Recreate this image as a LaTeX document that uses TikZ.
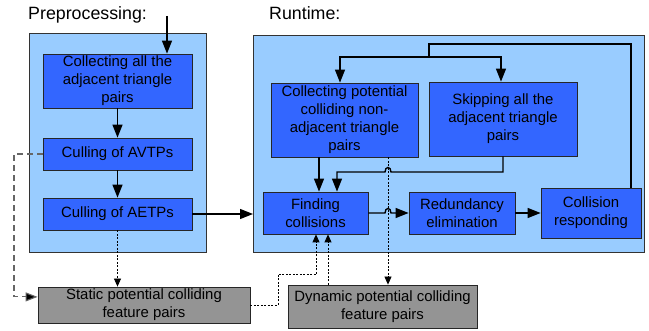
\documentclass[tikz,border=0pt]{standalone}
\usepackage{fontspec}
\setmainfont{Liberation Sans}
\usetikzlibrary{arrows.meta,calc}
\definecolor{frameblue}{HTML}{99CCFF}
\definecolor{boxblue}{HTML}{3366FF}
\definecolor{boxgray}{HTML}{949494}
\tikzset{
  frame/.style={draw=black!80,fill=frameblue,line width=0.8pt},
  procbox/.style={draw=black!85,fill=boxblue,line width=0.8pt,inner sep=0pt,align=center,
    font=\fontsize{14.9}{18}\selectfont},
  databox/.style={draw=black!85,fill=boxgray,line width=0.8pt,inner sep=0pt,align=center,
    font=\fontsize{14.9}{18}\selectfont},
  flow/.style={line width=1.4pt,-{Triangle[length=13pt,width=10pt]}},
  plainflow/.style={line width=1.4pt},
  dotflow/.style={line width=0.8pt,dash pattern=on 2pt off 1.5pt,-{Triangle[length=8pt,width=7pt]}},
  dotline/.style={line width=0.8pt,dash pattern=on 2pt off 1.5pt},
  longdash/.style={line width=1.1pt,draw=black!60,dash pattern=on 6pt off 4pt,
    -{Triangle[length=12pt,width=9pt,fill=black]}},
  title/.style={font=\fontsize{17.8}{20}\selectfont,anchor=base west,inner sep=0pt},
}
\begin{document}
\begin{tikzpicture}[x=1pt,y=-1pt]
\useasboundingbox (0,0) rectangle (649,331);
% frames
\draw[frame] (29,33) rectangle (206,252);
\path (253,35) coordinate (rtnw) (644,252) coordinate (rtse);
\draw[frame] (rtnw) rectangle (rtse);
\node[title] (pre) at (28,20) {Preprocessing:};
\node[title] (rt) at (269,20) {Runtime:};
% preprocessing boxes
\node[procbox,minimum width=149pt,minimum height=54pt] (b1) at (117.5,81)
  {Collecting all the\\adjacent triangle\\pairs};
\node[procbox,minimum width=149pt,minimum height=32pt] (b2) at (117.5,154) {Culling of AVTPs};
\node[procbox,minimum width=149pt,minimum height=32pt] (b3) at (117.5,214) {Culling of AETPs};
% runtime boxes
\node[procbox,minimum width=147pt,minimum height=74pt] (cp) at (344.5,120)
  {Collecting potential\\colliding non-\\adjacent triangle\\pairs};
\node[procbox,minimum width=148pt,minimum height=74pt] (sk) at (503,119)
  {Skipping all the\\adjacent triangle\\pairs};
\node[procbox,minimum width=105pt,minimum height=42pt] (fc) at (315.5,213) {Finding\\collisions};
\node[procbox,minimum width=106pt,minimum height=42pt] (re) at (462,213) {Redundancy\\elimination};
\node[procbox,minimum width=100pt,minimum height=50pt] (cr) at (591,213) {Collision\\responding};
% data boxes
\node[databox,minimum width=212pt,minimum height=36pt] (st) at (144,305)
  {Static potential colliding\\feature pairs};
\node[databox,minimum width=189pt,minimum height=43pt] (dy) at (382.5,306.5)
  {Dynamic potential colliding\\feature pairs};
% helper coordinates
\coordinate (in) at (167,16);
\coordinate (dl) at (14,154);
\coordinate (fb1) at (631,44);
\coordinate (fb2) at (429,44);
\coordinate (fb3) at (429,57);
\coordinate (fbl) at (340,57);
\coordinate (fbr) at (501,57);
\coordinate (sk1) at (503,172);
\coordinate (sk2) at (337,172);
\coordinate (cx) at (319,0);
\coordinate (jx) at (388,0);
\coordinate (s1) at (278,305);
\coordinate (s2) at (278,274);
\coordinate (s3) at (316,274);
\coordinate (dx) at (328,0);
% preprocessing connectors
\draw[flow] (in) -- (in |- b1.north);
\draw[flow] (b1.south) -- (b2.north);
\draw[flow] (b2.south) -- (b3.north);
\draw[flow] (b3.east) -- (b3.east -| rtnw);
\draw[longdash] (b2.west) -- (b2.west -| dl) |- ($(st.north west)!0.28!(st.south west)$);
\draw[dotflow] (b3.south) -- (b3.south |- st.north);
% feedback loop
\draw[plainflow] (cr.north -| fb1) -- (fb1) -- (fb2) -- (fb3);
\draw[flow] (fb3) -- (fbl) -- (fbl |- cp.north);
\draw[flow] (fb3) -- (fbr) -- (fbr |- sk.north);
% into finding collisions
\draw[flow] (cp.south -| cx) -- (fc.north -| cx);
\draw[flow] (sk.south) -- (sk1) -- (391,172) .. controls (391,166) and (385,166) .. (385,172)
  -- (sk2) -- (sk2 |- fc.north);
\draw[flow] (fc.east) -- (385,213) .. controls (385,207) and (391,207) .. (391,213) -- (re.west);
\draw[flow] (re.east) -- (cr.west);
% dotted data flows
\draw[dotflow] (cp.south -| jx) -- (dy.north -| jx);
\draw[dotline] (st.east) -- (s1) -- (s2) -- (s3);
\draw[dotflow] (s3) -- (fc.south -| s3);
\draw[dotflow] (dy.north -| dx) -- (fc.south -| dx);
\end{tikzpicture}
\end{document}
